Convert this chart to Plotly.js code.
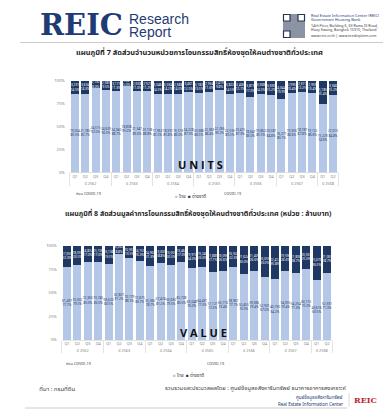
<!DOCTYPE html>
<html><head><meta charset="utf-8">
<script src="https://cdn.plot.ly/plotly-3.0.1.min.js"></script>
<style>html,body{margin:0;padding:0;background:#fff}#c{width:383px;height:410px}</style>
</head><body><div id="c"></div>
<script>
// ---- data (read / estimated from the reference) ----
const years = ['ปี 2562','ปี 2562','ปี 2562','ปี 2562','ปี 2563','ปี 2563','ปี 2563','ปี 2563',
  'ปี 2564','ปี 2564','ปี 2564','ปี 2564','ปี 2565','ปี 2565','ปี 2565','ปี 2565',
  'ปี 2566','ปี 2566','ปี 2566','ปี 2566','ปี 2567','ปี 2567','ปี 2567','ปี 2567','ปี 2568','ปี 2568'];
const quarters = ['Q1','Q2','Q3','Q4','Q1','Q2','Q3','Q4','Q1','Q2','Q3','Q4','Q1','Q2','Q3','Q4',
  'Q1','Q2','Q3','Q4','Q1','Q2','Q3','Q4','Q1','Q2'];
const yTicks = [0, 25, 50, 75, 100];
const yTickText = ['0%', '25%', '50%', '75%', '100%'];
// units (หน่วย)
const unitsThai = [19054,21780,24515,24629,24940,18838,21347,23158,17962,18331,16513,24228,20386,
  22363,22266,22535,23415,18647,19862,20587,16277,19356,18787,19122,15229,22015];
const unitsForeign = [3231,3634,2132,2585,3177,992,2638,2921,3046,3034,2688,3461,3182,
  2934,2419,3822,3406,3819,3368,3690,4044,2995,2611,2959,5185,3946];
// value (ล้านบาท)
const valueThai = [61497,70032,72365,73745,66620,62827,70179,72675,55060,57474,50630,65728,63048,
  64431,57121,63716,58967,50455,59066,52901,40190,54055,54254,60110,43616,52331];
const valueForeign = [17650,18059,14822,15105,16138,6062,10953,14153,14902,13307,13055,13462,19910,
  19246,21885,23090,16924,21624,21405,26055,22412,19590,21838,20037,25070,21065];

const seriesNames = ['ไทย','ต่างชาติ'];
const title1 = 'แผนภูมิที่ 7 สัดส่วนจำนวนหน่วยการโอนกรรมสิทธิ์ห้องชุดให้คนต่างชาติทั่วประเทศ';
const title2 = 'แผนภูมิที่ 8 สัดส่วนมูลค่าการโอนกรรมสิทธิ์ห้องชุดให้คนต่างชาติทั่วประเทศ (หน่วย : ล้านบาท)';

// ---- styling ----
const LIGHT = '#b4c7e7', DARK = '#1f3864';
const FONT = 'Noto Sans, Noto Sans Thai, sans-serif';
const W = 383, H = 410;
const px = v => v / W, py = v => 1 - v / H;
const X = [years, quarters];
const fmt = n => n.toLocaleString('en-US');

function labelTraces(thai, foreign, xa, ya, topY) {
  const tot = thai.map((t, i) => t + foreign[i]);
  const tp = thai.map((t, i) => t / tot[i] * 100);
  const fp = foreign.map((f, i) => f / tot[i] * 100);
  const base = {x: X, xaxis: xa, yaxis: ya, mode: 'text', type: 'scatter', hoverinfo: 'skip',
    showlegend: false, cliponaxis: false};
  return [
    Object.assign({}, base, {y: tp.map(v => v / 2),
      text: thai.map((t, i) => fmt(t) + '<br>' + tp[i].toFixed(1) + '%'),
      textfont: {size: 3.2, color: DARK, family: FONT}}),
    Object.assign({}, base, {y: tp.map((v, i) => v + fp[i] / 2),
      text: foreign.map((f, i) => fmt(f) + '<br>' + fp[i].toFixed(1) + '%'),
      textfont: {size: 3.2, color: '#ffffff', family: FONT}}),
    Object.assign({}, base, {y: tot.map(() => topY),
      text: tot.map((t, i) => (i === tot.length - 1 ? '<b>' + fmt(t) + '</b>' : fmt(t)) + '<br>100.0%'),
      textfont: {size: 3.2, color: '#404040', family: FONT}})
  ];
}

const traces = [
  {type: 'bar', x: X, y: unitsThai, name: seriesNames[0], marker: {color: LIGHT}, xaxis: 'x', yaxis: 'y', showlegend: false},
  {type: 'bar', x: X, y: unitsForeign, name: seriesNames[1], marker: {color: DARK}, xaxis: 'x', yaxis: 'y', showlegend: false},
  {type: 'bar', x: X, y: valueThai, name: seriesNames[0], marker: {color: LIGHT}, xaxis: 'x2', yaxis: 'y2', showlegend: false},
  {type: 'bar', x: X, y: valueForeign, name: seriesNames[1], marker: {color: DARK}, xaxis: 'x2', yaxis: 'y2', showlegend: false},
  ...labelTraces(unitsThai, unitsForeign, 'x', 'y', 110.5),
  ...labelTraces(valueThai, valueForeign, 'x2', 'y2', 107)
];

const xCommon = {type: 'multicategory', range: [-0.5, 25.5], showdividers: true, dividercolor: '#d0d0d0',
  dividerwidth: 0.6, showline: true, linecolor: '#d0d0d0', linewidth: 0.6, ticks: '', tickangle: 0,
  tickfont: {size: 3.8, color: '#7f7f7f', family: FONT}, fixedrange: true};
const yCommon = {range: [0, 100], tickmode: 'array', tickvals: yTicks, ticktext: yTickText, showgrid: false,
  zeroline: false, showline: false, ticks: '', tickfont: {size: 4.2, color: '#7f7f7f', family: FONT},
  ticklabelstandoff: 4, fixedrange: true};

function ann(x, y, text, size, opts) {
  return Object.assign({xref: 'paper', yref: 'paper', x: px(x), y: py(y), text: text, showarrow: false,
    font: {size: size, color: '#404040', family: FONT}, xanchor: 'center', yanchor: 'middle'}, opts || {});
}
const legendText = '<span style="color:' + LIGHT + '">■</span> ' + seriesNames[0] +
  '  <span style="color:' + DARK + '">■</span> ' + seriesNames[1];

const annotations = [
  ann(39, 25, '<b>REIC</b>', 29, {xanchor: 'left', borderpad: 0, font: {size: 29, color: '#1f3b73', family: 'DejaVu Serif'}}),
  ann(128, 19, 'Research', 14, {xanchor: 'left', borderpad: 0, font: {size: 14, color: '#1f3b73', family: 'Liberation Sans'}}),
  ann(128, 32, 'Report', 14, {xanchor: 'left', borderpad: 0, font: {size: 14, color: '#1f3b73', family: 'Liberation Sans'}}),
  ann(309, 15, 'Real Estate Information Center (REIC)', 3.9, {xanchor: 'left', font: {size: 3.9, color: '#1f3b73', family: FONT}}),
  ann(309, 19.5, 'Government Housing Bank', 3.9, {xanchor: 'left', font: {size: 3.9, color: '#1f3b73', family: FONT}}),
  ann(309, 25.5, '14th Floor, Building 6, 63 Rama IX Road,', 3.6, {xanchor: 'left', font: {size: 3.6, color: '#404040', family: FONT}}),
  ann(309, 29.5, 'Huay Kwang, Bangkok 10310, Thailand', 3.6, {xanchor: 'left', font: {size: 3.6, color: '#404040', family: FONT}}),
  ann(309, 36, 'www.reic.or.th | www.teedinpleen.com', 3.6, {xanchor: 'left', font: {size: 3.6, color: '#404040', family: FONT}}),
  ann(199, 52, '<b>' + title1 + '</b>', 7.4, {font: {size: 7.4, color: '#262626', family: FONT}}),
  ann(198, 213, '<b>' + title2 + '</b>', 7, {font: {size: 7, color: '#262626', family: FONT}}),
  ann(201, 164, '<b>U N I T S</b>', 11, {font: {size: 11, color: '#111111', family: 'Open Sans'}}),
  ann(203, 332, '<b>V A L U E</b>', 11, {font: {size: 11, color: '#111111', family: 'Open Sans'}}),
  ann(88, 193, 'ก่อน COVID-19', 3.8),
  ann(232, 193, 'COVID-19', 3.8),
  ann(190, 195.5, legendText, 4.5),
  ann(78, 363, 'ก่อน COVID-19', 3.8),
  ann(215, 363, 'COVID-19', 3.8),
  ann(188, 374.5, legendText, 4.5),
  ann(37, 388, 'ที่มา : กรมที่ดิน', 6, {xanchor: 'left', font: {size: 6, color: '#404040', family: FONT}}),
  ann(348, 388, 'รวบรวมและประมวลผลโดย : ศูนย์ข้อมูลอสังหาริมทรัพย์ ธนาคารอาคารสงเคราะห์', 5.8, {xanchor: 'right', font: {size: 5.8, color: '#404040', family: FONT}}),
  ann(345, 397.5, 'ศูนย์ข้อมูลอสังหาริมทรัพย์', 4.5, {xanchor: 'right', font: {size: 4.5, color: '#1f3b73', family: FONT}}),
  ann(345, 403.5, 'Real Estate Information Center', 4.5, {xanchor: 'right', font: {size: 4.5, color: '#1f3b73', family: FONT}}),
  ann(352, 400, '<b>REIC</b>', 8, {xanchor: 'left', font: {size: 8, color: '#c0272d', family: 'DejaVu Serif'}})
];

const shapes = [
  {type: 'line', xref: 'paper', yref: 'paper', x0: px(20), x1: px(383), y0: py(42.5), y1: py(42.5), line: {color: '#bfbfbf', width: 0.8}},
  {type: 'line', xref: 'paper', yref: 'paper', x0: px(25), x1: px(347), y0: py(408), y1: py(408), line: {color: '#bfbfbf', width: 0.8}},
  {type: 'line', xref: 'paper', yref: 'paper', x0: px(349), x1: px(349), y0: py(393), y1: py(407), line: {color: '#bfbfbf', width: 0.6}},
  // QR code block
  {type: 'rect', xref: 'paper', yref: 'paper', x0: px(283), x1: px(305), y0: py(38), y1: py(14), fillcolor: '#8c93a3', line: {width: 0}},
  {type: 'rect', xref: 'paper', yref: 'paper', x0: px(283.5), x1: px(290), y0: py(21), y1: py(14.5), fillcolor: '#ffffff', line: {color: '#2a3550', width: 1.2}},
  {type: 'rect', xref: 'paper', yref: 'paper', x0: px(298), x1: px(304.5), y0: py(21), y1: py(14.5), fillcolor: '#ffffff', line: {color: '#2a3550', width: 1.2}},
  {type: 'rect', xref: 'paper', yref: 'paper', x0: px(283.5), x1: px(290), y0: py(37.5), y1: py(31), fillcolor: '#ffffff', line: {color: '#2a3550', width: 1.2}}
];

const layout = {
  width: W, height: H, margin: {l: 0, r: 0, t: 0, b: 0}, paper_bgcolor: '#ffffff', plot_bgcolor: '#ffffff',
  barmode: 'stack', barnorm: 'percent', bargap: 0.22, showlegend: false,
  font: {family: FONT, color: '#404040'},
  xaxis: Object.assign({}, xCommon, {domain: [px(69.8), px(338.2)], anchor: 'y'}),
  yaxis: Object.assign({}, yCommon, {domain: [py(172.5), py(81)], anchor: 'x'}),
  xaxis2: Object.assign({}, xCommon, {domain: [px(61.8), px(332.2)], anchor: 'y2'}),
  yaxis2: Object.assign({}, yCommon, {domain: [py(340), py(245.5)], anchor: 'x2'}),
  annotations: annotations, shapes: shapes
};
Plotly.newPlot('c', traces, layout, {staticPlot: true, displayModeBar: false});
</script></body></html>
